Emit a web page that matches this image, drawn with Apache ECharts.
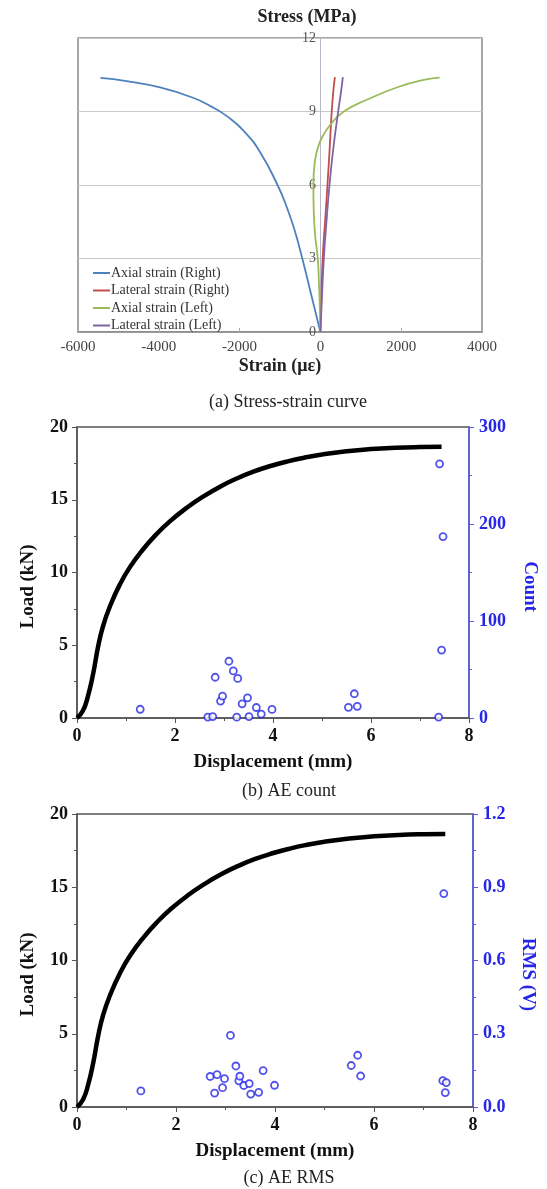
<!DOCTYPE html>
<html>
<head>
<meta charset="utf-8">
<script src="https://cdn.jsdelivr.net/npm/echarts@6/dist/echarts.min.js"></script>
<style>
html, body { margin: 0; padding: 0; background: #fff; }
#main { width: 547px; height: 1189px; }
</style>
</head>
<body>
<div id="main"></div>
<script>
// (a) stress-strain curve, strain in micro-strain, stress in MPa
const axialRightX = [0, -232, -440, -647, -855, -1062, -1477, -1892, -2307, -2722, -3137, -3967, -4797, -5444];
const axialRightY = [0, 1.55, 2.95, 4.2, 5.2, 6.0, 7.3, 8.2, 8.8, 9.22, 9.55, 9.98, 10.24, 10.37];
const lateralRightX = [0, 25, 55, 115, 175, 230, 280, 330, 360];
const lateralRightY = [0, 1.5, 3, 4.5, 6, 7.5, 9, 10, 10.4];
const axialLeftX = [0, -15, -35, -66, -133, -166, -174, -133, -66, 58, 266, 581, 1178, 1925, 2589, 2950];
const axialLeftY = [0, 1, 2, 3, 4, 5, 6, 7, 7.5, 8, 8.5, 9, 9.5, 10, 10.3, 10.38];
const lateralLeftX = [0, 40, 85, 150, 225, 320, 440, 510, 556];
const lateralLeftY = [0, 1.5, 3, 4.5, 6, 7.5, 9, 9.8, 10.4];

// load-displacement curve (same test for b and c)
const dispX = [0, 0.12, 0.22, 0.33, 0.43, 0.53, 0.67, 0.87, 1.08, 1.35, 1.62, 1.9, 2.24, 2.58, 2.92, 3.26, 3.6, 3.95, 4.3, 4.65, 5.0, 5.5, 6.0, 6.5, 7.0, 7.44];
const loadY = [0, 0.5, 1.45, 3.05, 4.9, 6.3, 7.65, 9.15, 10.37, 11.6, 12.63, 13.53, 14.45, 15.23, 15.9, 16.46, 16.93, 17.32, 17.64, 17.9, 18.11, 18.33, 18.48, 18.57, 18.62, 18.64];

// (b) AE count
const countX = [1.29, 2.67, 2.77, 2.82, 2.93, 2.97, 3.10, 3.19, 3.28, 3.26, 3.37, 3.48, 3.51, 3.66, 3.76, 3.98, 5.54, 5.66, 5.72, 7.38, 7.40, 7.47, 7.44];
const countY = [9, 1, 1.5, 42, 17.5, 22.5, 58.5, 48.5, 40.8, 0.8, 14.6, 20.8, 1.5, 10.8, 4, 8.8, 11, 25, 12, 1, 262, 187, 70];

// (c) AE RMS
const rmsX = [1.29, 2.69, 2.78, 2.83, 2.94, 2.98, 3.10, 3.21, 3.27, 3.29, 3.37, 3.48, 3.51, 3.67, 3.76, 3.99, 5.54, 5.67, 5.73, 7.39, 7.41, 7.46, 7.44];
const rmsY = [0.066, 0.125, 0.057, 0.133, 0.079, 0.116, 0.293, 0.168, 0.107, 0.126, 0.088, 0.096, 0.053, 0.060, 0.149, 0.089, 0.170, 0.212, 0.127, 0.108, 0.874, 0.100, 0.059];

const serif = "'Liberation Serif', 'DejaVu Serif', serif";
const blue = '#2626e6';
const zip = (xs, ys) => xs.map((x, i) => [x, ys[i]]);

function loadXAxis(gridIndex) {
    return {
        type: 'value', gridIndex: gridIndex, min: 0, max: 8, interval: 2,
        name: 'Displacement (mm)', nameLocation: 'middle', nameGap: 35,
        nameTextStyle: {fontFamily: serif, fontWeight: 'bold', fontSize: 19, color: '#111'},
        axisLine: {show: true, lineStyle: {color: '#555', width: 1.5}},
        axisTick: {show: true, length: 5, lineStyle: {color: '#555'}},
        minorTick: {show: true, splitNumber: 2, length: 3, lineStyle: {color: '#555'}},
        axisLabel: {fontFamily: serif, fontWeight: 'bold', fontSize: 18, color: '#111', margin: 9},
        splitLine: {show: false}
    };
}

function loadYAxis(gridIndex) {
    return {
        type: 'value', gridIndex: gridIndex, min: 0, max: 20, interval: 5, position: 'left',
        name: 'Load (kN)', nameLocation: 'middle', nameGap: 39, nameRotate: 90,
        nameTextStyle: {fontFamily: serif, fontWeight: 'bold', fontSize: 19, color: '#111', padding: [0, 28, 0, 0]},
        axisLine: {show: true, onZero: false, lineStyle: {color: '#555', width: 1.5}},
        axisTick: {show: true, length: 5, lineStyle: {color: '#555'}},
        minorTick: {show: true, splitNumber: 2, length: 3, lineStyle: {color: '#555'}},
        axisLabel: {fontFamily: serif, fontWeight: 'bold', fontSize: 18, color: '#111', margin: 9},
        splitLine: {show: false}
    };
}

function aeYAxis(gridIndex, name, max, interval, fmt, gap) {
    return {
        type: 'value', gridIndex: gridIndex, min: 0, max: max, interval: interval, position: 'right',
        name: name, nameLocation: 'middle', nameGap: gap, nameRotate: -90,
        nameTextStyle: {fontFamily: serif, fontWeight: 'bold', fontSize: 19, color: blue, padding: [0, 0, 0, 28]},
        axisLine: {show: true, onZero: false, lineStyle: {color: '#5a5af0', width: 1.5}},
        axisTick: {show: true, length: 5, lineStyle: {color: '#5a5af0'}},
        minorTick: {show: true, splitNumber: 2, length: 3, lineStyle: {color: '#5a5af0'}},
        axisLabel: {fontFamily: serif, fontWeight: 'bold', fontSize: 18, color: blue, margin: 10, formatter: fmt},
        splitLine: {show: false}
    };
}

const scatterStyle = {
    type: 'scatter', symbol: 'circle', symbolSize: 7,
    itemStyle: {color: '#fff', borderColor: blue, borderWidth: 1.8}
};

const loadLine = {
    type: 'line', smooth: 0.5, showSymbol: false, silent: true,
    lineStyle: {color: '#000', width: 4.5}
};

function strainLine(name, color, xs, ys) {
    return {
        name: name, type: 'line', xAxisIndex: 0, yAxisIndex: 0, smooth: 0.5, showSymbol: false,
        lineStyle: {color: color, width: 1.8}, itemStyle: {color: color},
        data: zip(xs, ys)
    };
}

const chart = echarts.init(document.getElementById('main'), null, {renderer: 'canvas'});

chart.setOption({
    animation: false,
    backgroundColor: '#fff',
    grid: [
        {left: 78, top: 38, width: 404, height: 294, show: true, borderColor: '#8a8a8a', borderWidth: 1.5, containLabel: false},
        {left: 77, top: 427, width: 392, height: 291, show: true, borderColor: '#555', borderWidth: 1.5, containLabel: false},
        {left: 77, top: 814, width: 396, height: 293, show: true, borderColor: '#555', borderWidth: 1.5, containLabel: false}
    ],
    legend: {
        orient: 'vertical', left: 88, top: 261,
        icon: 'rect', itemWidth: 17, itemHeight: 2, itemGap: 3.5,
        textStyle: {fontFamily: serif, fontSize: 14, color: '#333', padding: [0, 0, 0, -4]},
        data: ['Axial strain (Right)', 'Lateral strain (Right)', 'Axial strain (Left)', 'Lateral strain (Left)']
    },
    xAxis: [
        {
            type: 'value', gridIndex: 0, min: -6000, max: 4000, interval: 2000,
            name: 'Strain (\u03bc\u03b5)', nameLocation: 'middle', nameGap: 25,
            nameTextStyle: {fontFamily: serif, fontWeight: 'bold', fontSize: 18, color: '#222'},
            axisLine: {show: true, lineStyle: {color: '#8a8a8a', width: 1.5}},
            axisTick: {show: true, inside: true, length: 4, lineStyle: {color: '#aaa'}},
            axisLabel: {fontFamily: serif, fontSize: 15, color: '#444', margin: 8, formatter: v => String(v)},
            splitLine: {show: false}
        },
        loadXAxis(1),
        loadXAxis(2)
    ],
    yAxis: [
        {
            // stress axis sits on strain = 0 (0.6 of the 404 px plot width from the left)
            type: 'value', gridIndex: 0, min: 0, max: 12, interval: 3, position: 'left', offset: -242,
            axisLine: {show: true, onZero: false, lineStyle: {color: '#b8b8c8', width: 1}},
            axisTick: {show: false},
            axisLabel: {fontFamily: serif, fontSize: 14, color: '#555', margin: 4},
            splitLine: {show: true, lineStyle: {color: '#c8c8c8', width: 1}}
        },
        loadYAxis(1),
        aeYAxis(1, 'Count', 300, 100, null, 51),
        loadYAxis(2),
        aeYAxis(2, 'RMS (V)', 1.2, 0.3, v => v.toFixed(1), 45)
    ],
    series: [
        strainLine('Axial strain (Right)', '#4f81bd', axialRightX, axialRightY),
        strainLine('Lateral strain (Right)', '#c0504d', lateralRightX, lateralRightY),
        strainLine('Axial strain (Left)', '#9bbb59', axialLeftX, axialLeftY),
        strainLine('Lateral strain (Left)', '#8064a2', lateralLeftX, lateralLeftY),
        Object.assign({}, loadLine, {xAxisIndex: 1, yAxisIndex: 1, data: zip(dispX, loadY)}),
        Object.assign({}, scatterStyle, {xAxisIndex: 1, yAxisIndex: 2, data: zip(countX, countY)}),
        Object.assign({}, loadLine, {xAxisIndex: 2, yAxisIndex: 3, data: zip(dispX, loadY)}),
        Object.assign({}, scatterStyle, {xAxisIndex: 2, yAxisIndex: 4, data: zip(rmsX, rmsY)})
    ],
    graphic: [
        {type: 'text', x: 307, y: 17, style: {text: 'Stress (MPa)', font: 'bold 18px ' + serif, fill: '#222', textAlign: 'center', textVerticalAlign: 'middle'}},
        {type: 'text', x: 288, y: 402, style: {text: '(a) Stress-strain curve', font: '18px ' + serif, fill: '#222', textAlign: 'center', textVerticalAlign: 'middle'}},
        {type: 'text', x: 289, y: 791, style: {text: '(b) AE count', font: '18px ' + serif, fill: '#222', textAlign: 'center', textVerticalAlign: 'middle'}},
        {type: 'text', x: 289, y: 1178, style: {text: '(c) AE RMS', font: '18px ' + serif, fill: '#222', textAlign: 'center', textVerticalAlign: 'middle'}}
    ]
});
</script>
</body>
</html>
